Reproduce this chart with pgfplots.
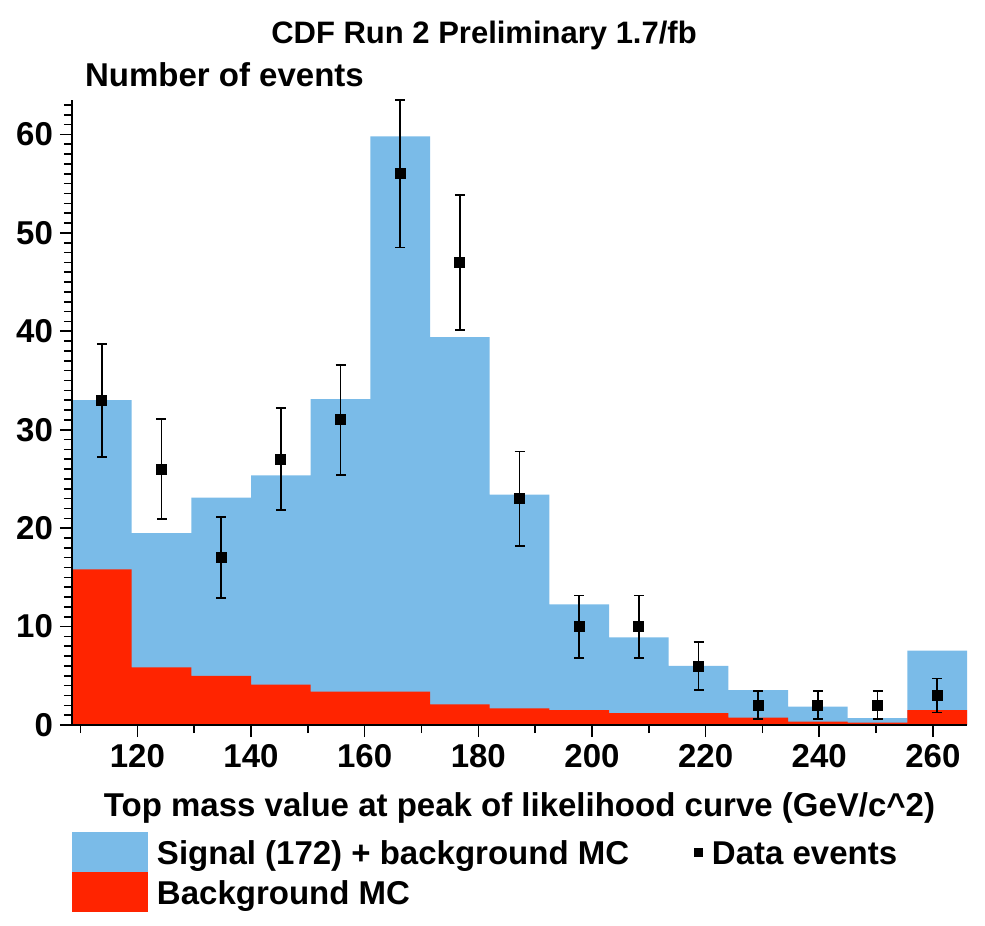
\documentclass[border=0pt]{standalone}
\usepackage{fontspec}
\setmainfont{Liberation Sans}
\usepackage{pgfplots}
\pgfplotsset{compat=1.18}
\definecolor{sigblue}{RGB}{122,187,232}
\definecolor{bkgred}{RGB}{255,36,0}
\newcommand{\fs}{\fontsize{16.5}{19}\selectfont\bfseries}
\begin{document}
\begin{tikzpicture}
\begin{axis}[
  width=447.5pt, height=312.5pt, scale only axis,
  xmin=108.5, xmax=266, ymin=0, ymax=63.5,
  axis x line=bottom, axis y line=left,
  axis line style={-, line width=0.8pt},
  axis on top,
  tick align=outside,
  xtick={120,140,...,260}, minor xtick={110,130,...,250},
  ytick={0,10,...,60}, minor ytick={1,...,63},
  major tick length=6pt, minor tick length=4pt,
  tick style={line width=0.8pt, black},
  tick label style={font=\fs},
  /pgf/number format/assume math mode=true,
  legend columns=2, transpose legend,
  legend cell align=left,
  legend style={draw=none, fill=none, at={(0,-0.1712)}, anchor=north west,
    inner sep=0pt, outer sep=0pt, row sep=0pt, font=\fs,
    nodes={inner sep=0pt, anchor=base west},
    /tikz/every odd column/.append style={column sep=4.5pt},
    /tikz/every even column/.append style={column sep=32.5pt}},
]
% Signal + background (stacked total)
\addplot[draw=none, fill=sigblue, const plot mark left,
  legend image code/.code={\fill[sigblue] (0pt,-4pt) rectangle (38pt,16pt);}]
  coordinates {(108.5,33.0) (119,19.5) (129.5,23.1) (140,25.35) (150.5,33.1)
   (161,59.8) (171.5,39.4) (182,23.4) (192.5,12.25) (203,8.9) (213.5,6.0)
   (224,3.55) (234.5,1.86) (245,0.7) (255.5,7.55) (266,7.55)} \closedcycle;
\addlegendentry{Signal (172) + background MC}
% Background MC
\addplot[draw=none, fill=bkgred, const plot mark left,
  legend image code/.code={\fill[bkgred] (0pt,-4pt) rectangle (38pt,16pt);}]
  coordinates {(108.5,15.8) (119,5.86) (129.5,5.0) (140,4.1) (150.5,3.4)
   (161,3.4) (171.5,2.1) (182,1.7) (192.5,1.5) (203,1.2) (213.5,1.2)
   (224,0.75) (234.5,0.35) (245,0.25) (255.5,1.5) (266,1.5)} \closedcycle;
\addlegendentry{Background MC}
% Data
\addplot[only marks, mark=square*, mark size=2.5pt, black,
  legend image code/.code={\fill[black] (-2pt,3.9pt) rectangle (2pt,7.9pt);},
  error bars/.cd, y dir=both, y explicit,
  error mark=-,
  error bar style={line width=0.9pt, black},
  error mark options={rotate=90, black, mark size=2.5pt, line width=0.9pt}]
  coordinates {
   (113.75,33) +- (0,5.745)
   (124.25,26) +- (0,5.099)
   (134.75,17) +- (0,4.123)
   (145.25,27) +- (0,5.196)
   (155.75,31) +- (0,5.568)
   (166.25,56) +- (0,7.483)
   (176.75,47) +- (0,6.856)
   (187.25,23) +- (0,4.796)
   (197.75,10) +- (0,3.162)
   (208.25,10) +- (0,3.162)
   (218.75,6) +- (0,2.449)
   (229.25,2) +- (0,1.414)
   (239.75,2) +- (0,1.414)
   (250.25,2) +- (0,1.414)
   (260.75,3) +- (0,1.732)};
\addlegendentry{Data events}
\end{axis}
\node[anchor=base, font=\fontsize{15.5}{18}\selectfont\bfseries] at ([xshift=-17.75pt, yshift=28pt]current axis.north) {CDF Run 2 Preliminary 1.7/fb};
\node[anchor=base west, font=\fs] at ([xshift=3pt, yshift=6.5pt]current axis.north west) {Number of events};
\node[anchor=base, font=\fs] at ([yshift=-45.5pt]current axis.south) {Top mass value at peak of likelihood curve (GeV/c\^{}2)};
\pgfresetboundingbox
\path ([xshift=-36pt, yshift=50pt]current axis.north west) rectangle ([xshift=9pt, yshift=-100.5pt]current axis.south east);
\end{tikzpicture}
\end{document}
